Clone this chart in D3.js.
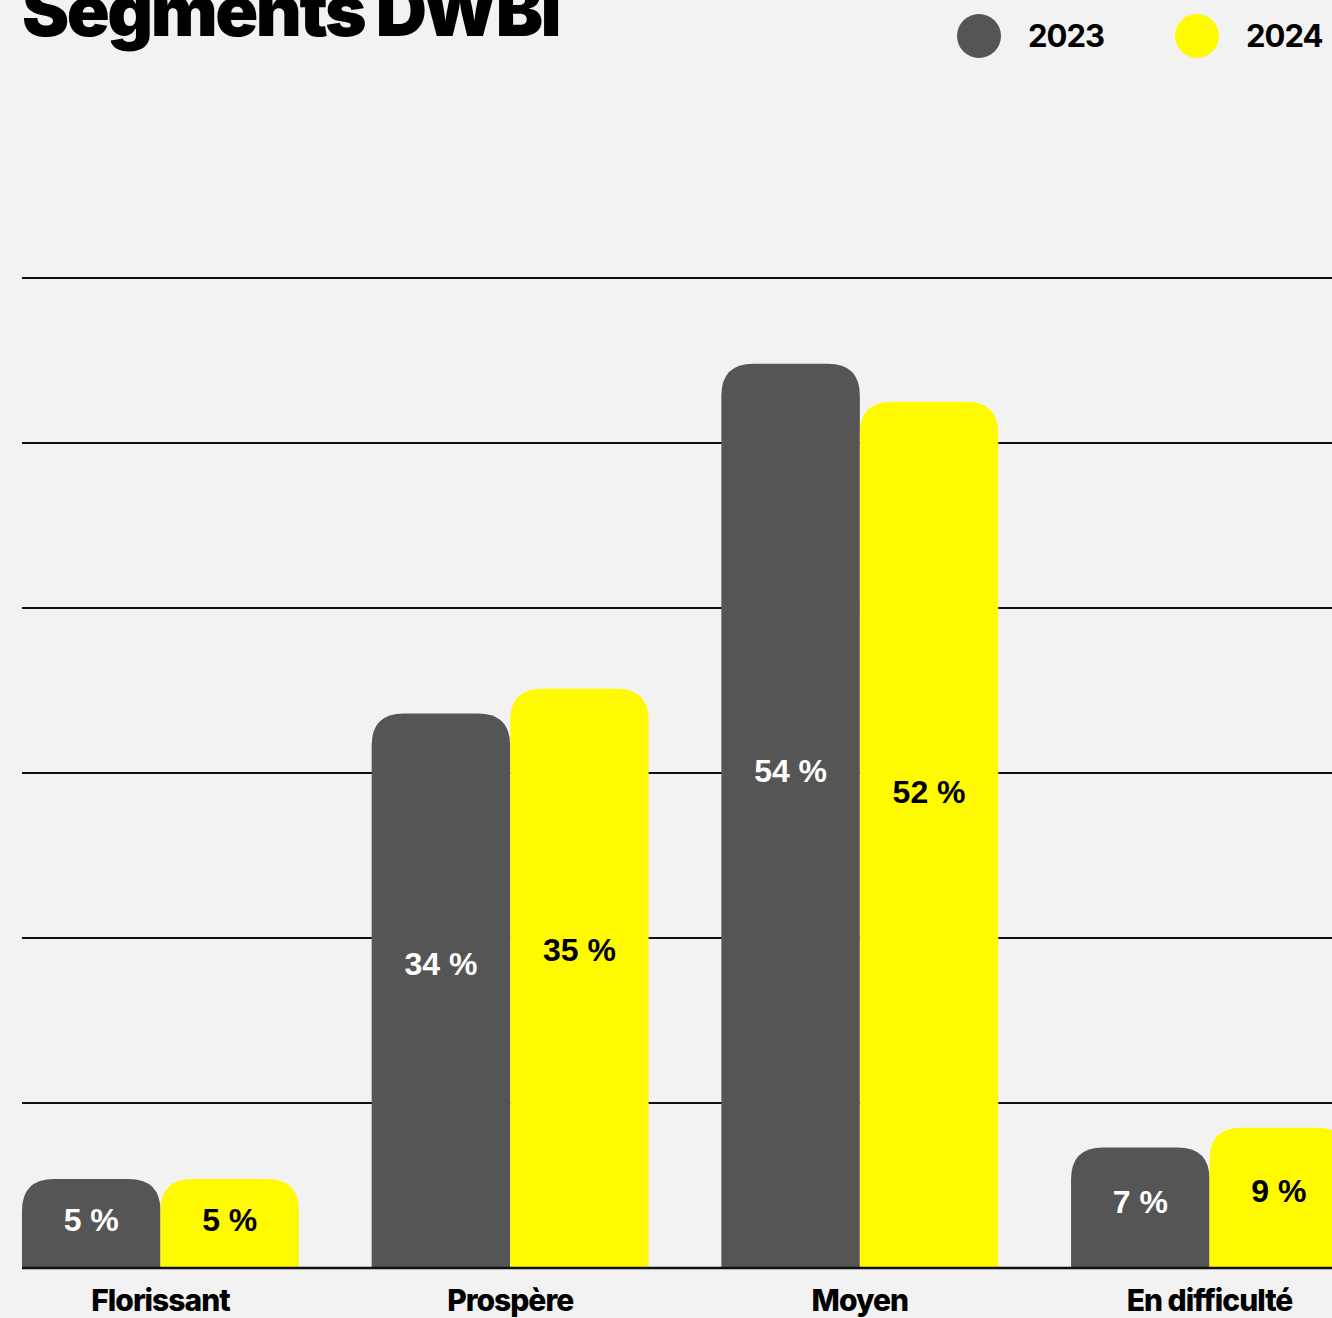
<!DOCTYPE html>
<html>
<head>
<meta charset="utf-8">
<script src="https://cdn.jsdelivr.net/npm/d3@7"></script>
<style>
    html, body { margin: 0; padding: 0; background: #f2f2f2; }
    svg { display: block; }
</style>
</head>
<body>
<svg id="chart" width="1332" height="1318"></svg>
<script>
// --- Data ---
const categories = ['Florissant', 'Prospère', 'Moyen', 'En difficulté'];
const seriesNames = ['2023', '2024'];
// bar heights (%)
const values2023 = [5.4, 33.6, 54.8, 7.3];
const values2024 = [5.4, 35.1, 52.5, 8.5];
// printed labels
const labels2023 = ['5 %', '34 %', '54 %', '7 %'];
const labels2024 = ['5 %', '35 %', '52 %', '9 %'];
const yTicks = [0, 10, 20, 30, 40, 50, 60];

const colors = { '2023': '#555555', '2024': '#fffa00' };
const textColors = { '2023': '#ffffff', '2024': '#000000' };

// --- Layout ---
const W = 1332, H = 1318;
const left = 22, baseY = 1268, topY = 278;

const svg = d3.select('#chart');

const x0 = d3.scaleBand().domain(categories).range([left, 1348]).paddingInner(0.208).paddingOuter(0);
const x1 = d3.scaleBand().domain(seriesNames).range([0, x0.bandwidth()]).padding(0);
const y = d3.scaleLinear().domain([0, 60]).range([baseY, topY]);

// gridlines
svg.append('g')
    .selectAll('line')
    .data(yTicks.filter(t => t > 0))
    .enter().append('line')
    .attr('x1', left).attr('x2', W)
    .attr('y1', d => y(d)).attr('y2', d => y(d))
    .attr('stroke', '#111').attr('stroke-width', 2);

// rounded-top bar path
function roundedTop(x, yy, w, h, r) {
    r = Math.min(r, h, w / 2);
    return `M${x},${yy + h}V${yy + r}Q${x},${yy} ${x + r},${yy}H${x + w - r}Q${x + w},${yy} ${x + w},${yy + r}V${yy + h}Z`;
}

const rows = [];
categories.forEach((c, i) => {
    rows.push({ cat: c, s: '2023', v: values2023[i], label: labels2023[i] });
    rows.push({ cat: c, s: '2024', v: values2024[i], label: labels2024[i] });
});

const bars = svg.append('g');
bars.selectAll('path')
    .data(rows)
    .enter().append('path')
    .attr('d', d => {
        const bx = x0(d.cat) + x1(d.s);
        const by = y(d.v);
        return roundedTop(bx, by, x1.bandwidth(), baseY - by, 32);
    })
    .attr('fill', d => colors[d.s]);

// value labels
bars.selectAll('text')
    .data(rows)
    .enter().append('text')
    .attr('x', d => x0(d.cat) + x1(d.s) + x1.bandwidth() / 2)
    .attr('y', d => y(d.v) + (baseY - y(d.v)) * 0.45)
    .attr('dy', '0.36em')
    .attr('text-anchor', 'middle')
    .attr('fill', d => textColors[d.s])
    .style('font-family', '"Liberation Sans", Arial, sans-serif')
    .style('font-weight', 700)
    .style('font-size', '32px')
    .text(d => d.label);

// baseline
svg.append('line')
    .attr('x1', left).attr('x2', W)
    .attr('y1', baseY).attr('y2', baseY)
    .attr('stroke', '#111').attr('stroke-width', 2.5);

// category labels
svg.append('g')
    .selectAll('text')
    .data(categories)
    .enter().append('text')
    .attr('x', d => x0(d) + x0.bandwidth() / 2)
    .attr('y', 1311)
    .attr('text-anchor', 'middle')
    .style('font-family', 'Inter, sans-serif')
    .style('font-weight', 800)
    .style('font-size', '30px')
    .style('letter-spacing', '-1px')
    .text(d => d);

// title (partly cut at top, as in the source)
svg.append('text')
    .attr('x', 22).attr('y', 36)
    .style('font-family', 'Inter, sans-serif')
    .style('font-weight', 900)
    .style('font-size', '71px')
    .style('letter-spacing', '-2.5px')
    .text('Segments DWBI');

// legend
const legendX = [979, 1197];
const legend = svg.append('g')
    .selectAll('g')
    .data(seriesNames)
    .enter().append('g')
    .attr('transform', (d, i) => `translate(${legendX[i]},36)`);
legend.append('circle').attr('r', 22).attr('fill', d => colors[d]);
legend.append('text')
    .attr('x', 49).attr('y', 11)
    .style('font-family', 'Inter, sans-serif')
    .style('font-weight', 700)
    .style('font-size', '31px')
    .style('letter-spacing', '-1px')
    .text(d => d);
</script>
</body>
</html>
